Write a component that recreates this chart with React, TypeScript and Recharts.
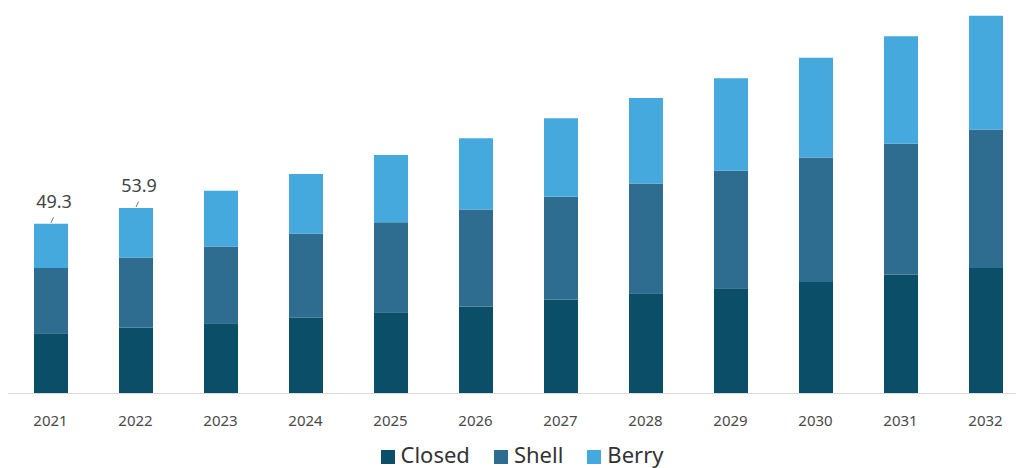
import { BarChart, Bar, XAxis, YAxis, LabelList, Legend } from 'recharts'

const years = ['2021', '2022', '2023', '2024', '2025', '2026', '2027', '2028', '2029', '2030', '2031', '2032']
const closed = [17.5, 19.2, 20.4, 22.0, 23.6, 25.3, 27.3, 29.1, 30.6, 32.4, 34.5, 36.5]
const shell = [19.0, 20.3, 22.3, 24.4, 26.2, 28.2, 29.9, 31.9, 34.1, 36.2, 38.1, 40.2]
const berry = [12.8, 14.4, 16.2, 17.4, 19.5, 20.7, 22.8, 24.9, 26.9, 29.0, 31.2, 33.1]
// only the first two totals are annotated in the source chart
const totalLabels = [49.3, 53.9, null, null, null, null, null, null, null, null, null, null]

const COLORS = {
  closed: '#0a4e68',
  shell: '#2f6d90',
  berry: '#46a9de',
}

const chartData = years.map((year, i) => ({
  year,
  closed: closed[i],
  shell: shell[i],
  berry: berry[i],
  label: totalLabels[i],
}))

const legendItems = [
  { name: 'Closed', color: COLORS.closed },
  { name: 'Shell', color: COLORS.shell },
  { name: 'Berry', color: COLORS.berry },
]

function TotalLabel(props: any) {
  const { x, y, width, value } = props
  if (value === null || value === undefined) return null
  const cx = x + width / 2
  return (
    <g>
      <line x1={cx} y1={y - 1} x2={cx + 2.5} y2={y - 6.5} stroke="#777" strokeWidth={1} />
      <text
        x={cx + 3}
        y={y - 16}
        textAnchor="middle"
        fontSize={18}
        fill="#444"
        fontFamily="'Noto Sans', sans-serif"
      >
        {Number(value).toFixed(1)}
      </text>
    </g>
  )
}

function ChartLegend() {
  return (
    <div
      style={{
        display: 'flex',
        justifyContent: 'center',
        alignItems: 'center',
        gap: 24,
        height: 28,
        paddingLeft: 8,
        fontFamily: "'Noto Sans', sans-serif",
        fontSize: 22,
        color: '#333',
        lineHeight: '28px',
      }}
    >
      {legendItems.map((item) => (
        <div key={item.name} style={{ display: 'flex', alignItems: 'center' }}>
          <span
            style={{
              display: 'inline-block',
              width: 14,
              height: 14,
              background: item.color,
              marginRight: 6,
              marginTop: 5,
            }}
          />
          <span>{item.name}</span>
        </div>
      ))}
    </div>
  )
}

export default function App() {
  return (
    <div style={{ width: 1016, height: 460, overflow: 'hidden', background: '#fff' }}>
      <BarChart
        width={1024}
        height={460}
        data={chartData}
        margin={{ top: 7, right: 4, left: 0, bottom: 16.5 }}
        barCategoryGap={0}
      >
        <XAxis
          dataKey="year"
          height={30}
          tickLine={false}
          tickSize={0}
          tickMargin={22}
          axisLine={{ stroke: '#dadada', strokeWidth: 1.2 }}
          tick={{ fontSize: 15, fill: '#4a4a4a', fontFamily: "'Noto Sans', sans-serif" }}
          interval={0}
        />
        <YAxis hide domain={[0, 110]} />
        <Legend
          verticalAlign="bottom"
          content={<ChartLegend />}
          wrapperStyle={{ bottom: 0 }}
        />
        <Bar dataKey="closed" name="Closed" stackId="a" fill={COLORS.closed} barSize={34} isAnimationActive={false} />
        <Bar dataKey="shell" name="Shell" stackId="a" fill={COLORS.shell} barSize={34} isAnimationActive={false} />
        <Bar dataKey="berry" name="Berry" stackId="a" fill={COLORS.berry} barSize={34} isAnimationActive={false}>
          <LabelList dataKey="label" content={<TotalLabel />} />
        </Bar>
      </BarChart>
    </div>
  )
}
